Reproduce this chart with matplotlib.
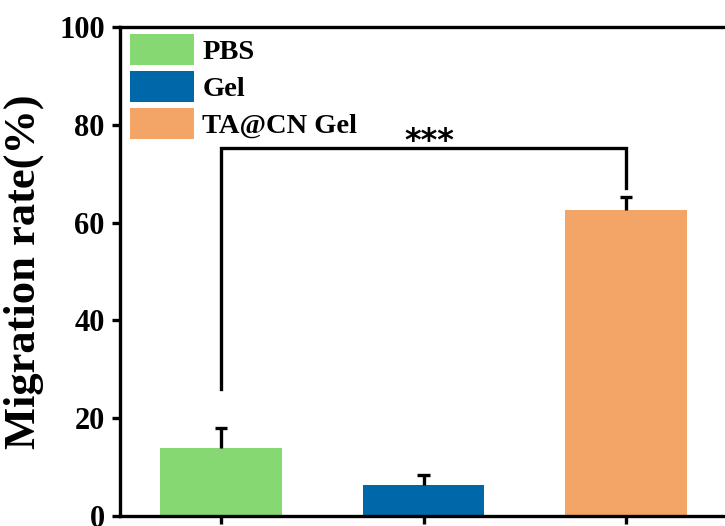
import matplotlib
matplotlib.use("Agg")
import matplotlib.pyplot as plt

# --- datos ---
grupos = ["PBS", "Gel", "TA@CN Gel"]
migracion = [14.0, 6.4, 62.6]
error_sup = [3.9, 1.9, 2.6]
colores = ["#85D872", "#0067A9", "#F2A566"]

# corchete de significancia: (grupo izq, grupo der, y izq, y der, y arriba)
corchete = (1, 3, 26.0, 67.0, 75.3)
marca = "***"

plt.rcParams["font.family"] = ["Liberation Serif", "DejaVu Serif"]
plt.rcParams["font.weight"] = "bold"

fig = plt.figure(figsize=(7.25, 5.26), dpi=100)
W, H = 725, 526
# los ejes se salen un poco de la imagen (la figura original esta recortada)
ax = fig.add_axes([120 / W, 10 / H, (727 - 120) / W, (516 - 27) / H])

x = [1, 2, 3]
ancho_cap = 0.03  # medio ancho del tope de la barra de error
for xi, v, e, c, g in zip(x, migracion, error_sup, colores, grupos):
    ax.bar(xi, v, width=0.6, color=c, label=g, zorder=2)
    # solo la mitad superior de la barra de error
    ax.vlines(xi, v, v + e, color="black", lw=2.4, zorder=3)
    ax.hlines(v + e, xi - ancho_cap, xi + ancho_cap, color="black", lw=2.4, zorder=3)

# corchete
x1, x2, y1, y2, ytop = corchete
ax.plot([x1, x1, x2, x2], [y1, ytop, ytop, y2], color="black", lw=2.4,
        solid_joinstyle="miter", zorder=3)
ax.text((x1 + x2) / 2 + 0.03, ytop - 1.8, marca, ha="center", va="bottom",
        fontsize=23, fontweight="bold", family="DejaVu Sans")

ax.set_xlim(0.5, 3.5)
ax.set_ylim(0, 100)
ax.set_yticks([0, 20, 40, 60, 80, 100])
ax.set_xticks(x)
ax.set_xticklabels([])

for s in ax.spines.values():
    s.set_linewidth(2.4)
ax.tick_params(axis="both", direction="out", width=2.4, length=6,
               labelsize=22, pad=5)
for lab in ax.get_yticklabels():
    lab.set_fontweight("bold")

ax.set_ylabel("Migration rate(%)", fontsize=32, fontweight="bold", labelpad=11)

leg = ax.legend(loc="upper left", bbox_to_anchor=(0.005, 1.0), frameon=False,
                prop={"size": 20.5, "weight": "bold"},
                handlelength=2.25, handleheight=1.3, labelspacing=0.2,
                handletextpad=0.28, borderaxespad=0.15, borderpad=0.1)

fig.savefig("out.png", dpi=100)
